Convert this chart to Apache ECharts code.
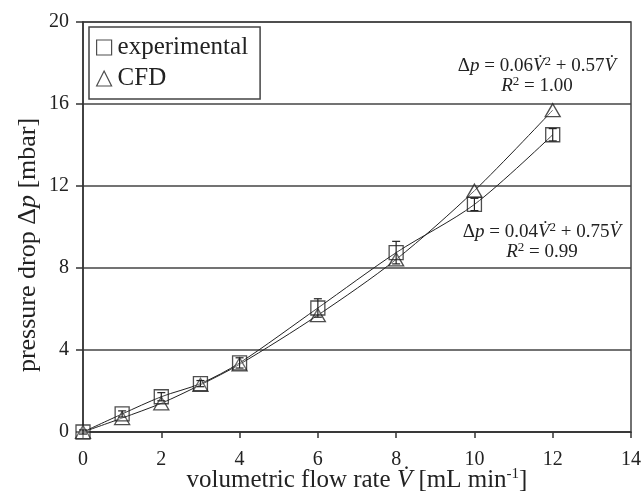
<!DOCTYPE html>
<html><head><meta charset="utf-8">
<script src="https://cdn.jsdelivr.net/npm/echarts@6/dist/echarts.min.js"></script>
<style>html,body{margin:0;padding:0;background:#fff}#c{width:644px;height:494px}</style>
</head><body><div id="c"></div>
<script>
const flowRates = [0, 1, 2, 3, 4, 6, 8, 10, 12];
const experimental = [0, 0.88, 1.72, 2.36, 3.37, 6.05, 8.75, 11.1, 14.5];
const experimentalErr = [0.1, 0.15, 0.2, 0.15, 0.25, 0.45, 0.55, 0.3, 0.3];
const cfd = [0, 0.68, 1.4, 2.3, 3.3, 5.7, 8.42, 11.77, 15.7];
const xTicks = [0, 2, 4, 6, 8, 10, 12, 14];
const yTicks = [0, 4, 8, 12, 16, 20];
const eqCFD = ['0.06', '0.57', '1.00'];
const eqExp = ['0.04', '0.75', '0.99'];

const serif = 'Liberation Serif';
const ink = '#222';
const expPts = flowRates.map((x, i) => [x, experimental[i]]);
const cfdPts = flowRates.map((x, i) => [x, cfd[i]]);
const errData = flowRates.map((x, i) => [x, experimental[i] - experimentalErr[i], experimental[i] + experimentalErr[i]]);

const eqRich = {
  i: {fontStyle: 'italic', fontFamily: serif, fontSize: 19, fill: ink},
  sup: {fontSize: 13, fontFamily: serif, padding: [0, 0, 9, 0], fill: ink}
};
function eqLines(c, cx, cy) {
  const l1 = 'Δ{i|p} = ' + c[0] + '{i|V\u0307}{sup|2} + ' + c[1] + '{i|V\u0307}';
  const l2 = '{i|R}{sup|2} = ' + c[2];
  return [l1, l2].map((t, k) => ({
    type: 'text', x: cx, y: cy + k * 20, z: 10,
    style: {text: t, fontFamily: serif, fontSize: 19, fill: ink, align: 'center', verticalAlign: 'middle', rich: eqRich}
  }));
}

const chart = echarts.init(document.getElementById('c'));
chart.setOption({
  animation: false,
  grid: {left: 83, right: 13, top: 22, bottom: 62, show: true, borderColor: '#444', borderWidth: 1.5,
    backgroundColor: 'transparent', containLabel: false, outerBoundsMode: 'none'},
  legend: {
    orient: 'vertical', left: 89, top: 27,
    data: [
      {name: 'experimental', icon: 'rect'},
      {name: 'CFD', icon: 'triangle'}
    ],
    itemWidth: 15, itemHeight: 15, itemGap: 6,
    borderColor: '#444', borderWidth: 1.5,
    padding: [8, 12, 8, 7],
    textStyle: {fontFamily: serif, fontSize: 25, color: ink, padding: [0, 0, 0, 1]},
    itemStyle: {color: '#fff', borderColor: ink, borderWidth: 1.2}
  },
  xAxis: {
    type: 'value', min: 0, max: 14, interval: 2,
    axisLine: {show: true, lineStyle: {color: '#333', width: 1.5}},
    axisTick: {show: true, length: 6, lineStyle: {color: '#333', width: 1.5}},
    splitLine: {show: false},
    axisLabel: {fontFamily: serif, fontSize: 20, color: ink, margin: 18,
      formatter: v => xTicks.includes(v) ? String(v) : ''},
    name: 'volumetric flow rate {i|V\u0307} [mL min{sup|-1}]',
    nameLocation: 'middle', nameGap: 35, nameMoveOverlap: false,
    nameTextStyle: {fontFamily: serif, fontSize: 25, color: ink,
      rich: {i: {fontStyle: 'italic', fontFamily: serif, fontSize: 25, color: ink},
             sup: {fontFamily: serif, fontSize: 15, color: ink, padding: [0, 0, 11, 0]}}}
  },
  yAxis: {
    type: 'value', min: 0, max: 20, interval: 4,
    axisLine: {show: true, lineStyle: {color: '#333', width: 1.5}},
    axisTick: {show: true, length: 7, lineStyle: {color: '#333', width: 1.5}},
    splitLine: {show: true, lineStyle: {color: '#444', width: 1.5}},
    axisLabel: {fontFamily: serif, fontSize: 20, color: ink, margin: 14,
      formatter: v => yTicks.includes(v) ? String(v) : ''},
    name: 'pressure drop Δ{i|p} [mbar]',
    nameLocation: 'middle', nameGap: 42, nameMoveOverlap: false,
    nameTextStyle: {fontFamily: serif, fontSize: 26, color: ink, padding: [0, 36, 0, 0],
      rich: {i: {fontStyle: 'italic', fontFamily: serif, fontSize: 26, color: ink}}}
  },
  series: [
    {type: 'line', data: expPts, smooth: 0.3, showSymbol: false, silent: true,
      lineStyle: {color: ink, width: 1}, z: 2},
    {type: 'line', data: cfdPts, smooth: 0.3, showSymbol: false, silent: true,
      lineStyle: {color: ink, width: 1}, z: 2},
    {name: 'CFD', type: 'scatter', data: cfdPts, symbol: 'triangle', symbolSize: [15, 13],
      itemStyle: {color: 'rgba(255,255,255,0.4)', borderColor: ink, borderWidth: 1.3}, z: 3},
    {name: 'experimental', type: 'scatter', data: expPts, symbol: 'rect', symbolSize: 14,
      itemStyle: {color: 'rgba(255,255,255,0.2)', borderColor: ink, borderWidth: 1.3}, z: 4},
    {type: 'custom', data: errData, z: 5, silent: true,
      renderItem: function (params, api) {
        const x = api.value(0);
        const lo = api.coord([x, api.value(1)]);
        const hi = api.coord([x, api.value(2)]);
        const w = 4;
        return {type: 'group', children: [
          {type: 'line', shape: {x1: lo[0], y1: lo[1], x2: hi[0], y2: hi[1]}, style: {stroke: ink, lineWidth: 1.2}},
          {type: 'line', shape: {x1: lo[0] - w, y1: lo[1], x2: lo[0] + w, y2: lo[1]}, style: {stroke: ink, lineWidth: 1.2}},
          {type: 'line', shape: {x1: hi[0] - w, y1: hi[1], x2: hi[0] + w, y2: hi[1]}, style: {stroke: ink, lineWidth: 1.2}}
        ]};
      }}
  ],
  graphic: [].concat(eqLines(eqCFD, 537, 66), eqLines(eqExp, 542, 232))
});
</script></body></html>
